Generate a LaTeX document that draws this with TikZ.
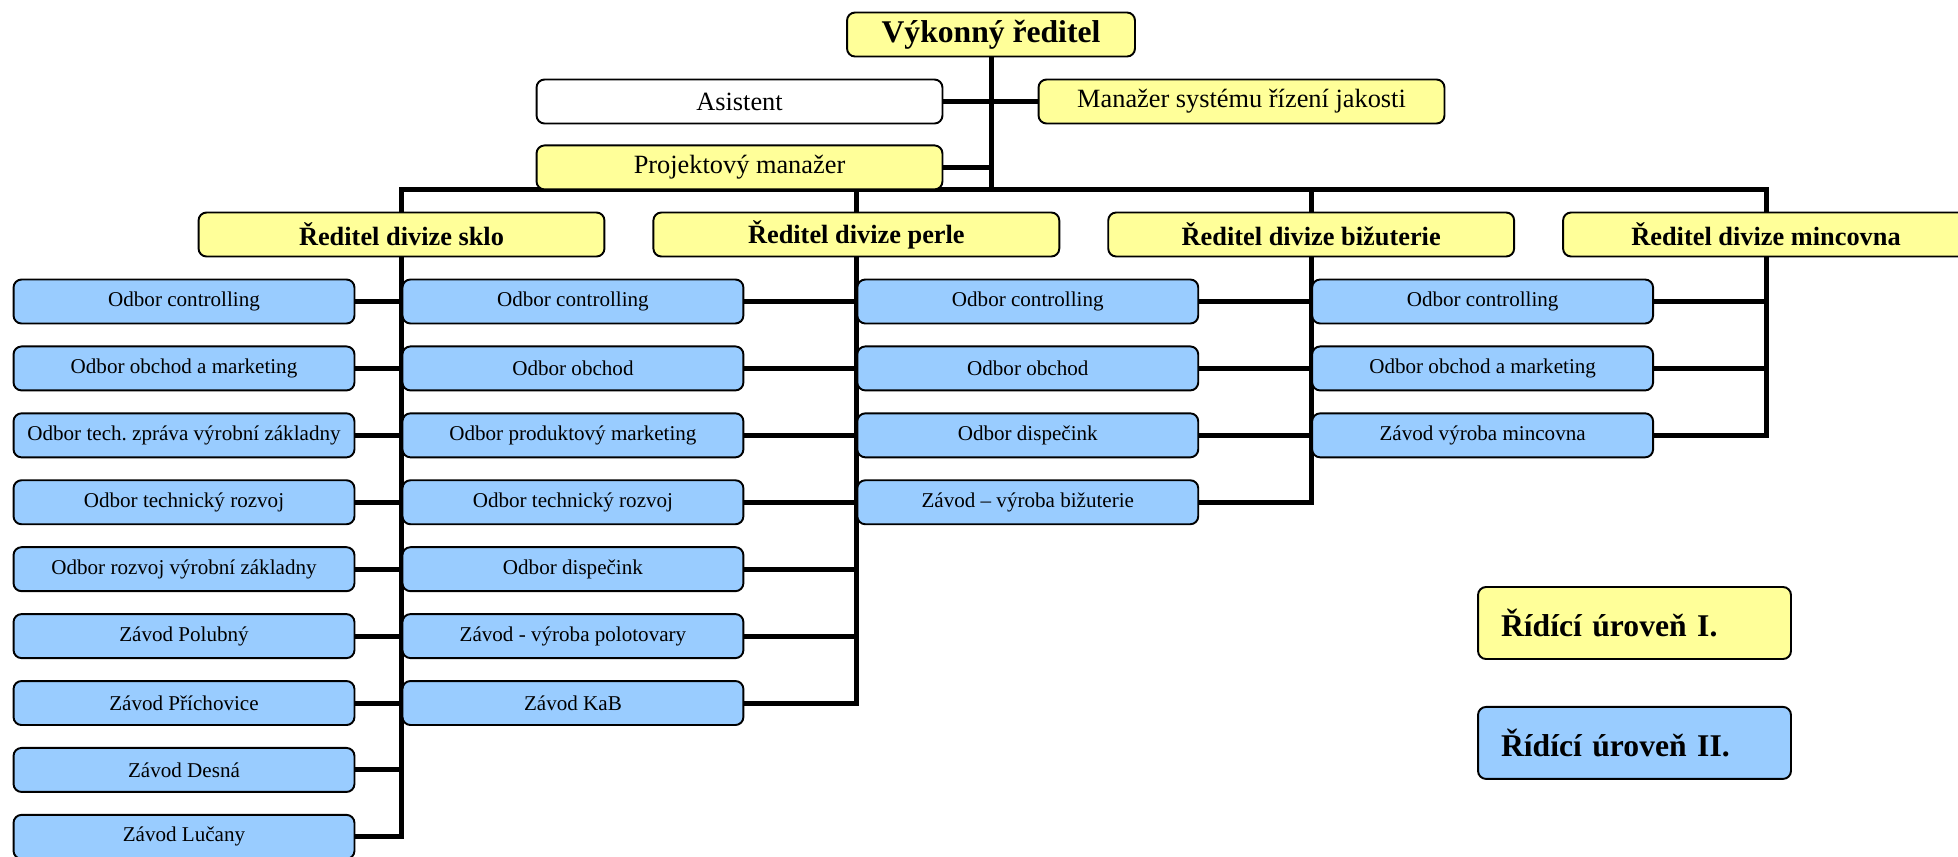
\documentclass[tikz,border=0pt]{standalone}
\usepackage{fontspec}
\setmainfont{Liberation Serif}
\usepackage{tikz}
\usepackage{xcolor}
\usetikzlibrary{positioning,backgrounds}
\definecolor{leveloneyellow}{RGB}{255,255,153}
\definecolor{leveltwoblue}{RGB}{153,204,255}

\begin{document}
\begin{tikzpicture}[x=0.02cm, y=-0.02cm,
                box/.style={rectangle, rounded corners=0.16cm, draw=black, line width=1.1pt, minimum height=0.88cm, inner sep=2pt, align=center},
                levelone/.style={fill=leveloneyellow},
                leveltwo/.style={fill=leveltwoblue},
                chief/.style={box, levelone, minimum width=5.76cm, font=\fontsize{18}{22}\selectfont\bfseries},
                staff/.style={box, minimum width=8.12cm, font=\fontsize{15}{18}\selectfont},
                division/.style={box, levelone, minimum width=8.12cm, font=\fontsize{15}{18}\selectfont\bfseries},
                dept/.style={box, leveltwo, minimum width=6.82cm, font=\fontsize{12}{14}\selectfont},
                legend/.style={box, minimum height=1.44cm, text width=5.34cm, inner xsep=0.46cm, align=left, font=\fontsize{18}{22}\selectfont\bfseries},
                link/.style={line width=2.85pt}
            ]
                \useasboundingbox (0,0) rectangle (1958,856);
                \clip (0,0) rectangle (1958,856);

                \node[chief] (ceo) at (991,34.5) {Výkonný ředitel};
                \node[staff] (asist) at (739.5,101.5) {Asistent};
                \node[staff, levelone] (quality) at (1241.5,101.5) {Manažer systému řízení jakosti};
                \node[staff, levelone, below=0.4cm of asist] (project) {Projektový manažer};
                \coordinate (hub) at (991,189);

                \node[division] (dsklo) at (401.5,234.5) {Ředitel divize sklo};
                \node[division, right=0.94cm of dsklo] (dperle) {Ředitel divize perle};
                \node[division, right=0.94cm of dperle] (dbiz) {Ředitel divize bižuterie};
                \node[division, right=0.94cm of dbiz] (dminc) {Ředitel divize mincovna};

                % divize sklo
                \node[dept] (s1) at (184,301.5) {Odbor controlling};
                \node[dept, below=0.42cm of s1] (s2) {Odbor obchod a marketing};
                \node[dept, below=0.42cm of s2] (s3) {Odbor tech.\ zpráva výrobní základny};
                \node[dept, below=0.42cm of s3] (s4) {Odbor technický rozvoj};
                \node[dept, below=0.42cm of s4] (s5) {Odbor rozvoj výrobní základny};
                \node[dept, below=0.42cm of s5] (s6) {Závod Polubný};
                \node[dept, below=0.42cm of s6] (s7) {Závod Příchovice};
                \node[dept, below=0.42cm of s7] (s8) {Závod Desná};
                \node[dept, below=0.42cm of s8] (s9) {Závod Lučany};

                % divize perle
                \node[dept, anchor=west] (p1) at (s1 -| dsklo) {Odbor controlling};
                \node[dept, below=0.42cm of p1] (p2) {Odbor obchod};
                \node[dept, below=0.42cm of p2] (p3) {Odbor produktový marketing};
                \node[dept, below=0.42cm of p3] (p4) {Odbor technický rozvoj};
                \node[dept, below=0.42cm of p4] (p5) {Odbor dispečink};
                \node[dept, below=0.42cm of p5] (p6) {Závod - výroba polotovary};
                \node[dept, below=0.42cm of p6] (p7) {Závod KaB};

                % divize bizuterie
                \node[dept, anchor=west] (b1) at (p1 -| dperle) {Odbor controlling};
                \node[dept, below=0.42cm of b1] (b2) {Odbor obchod};
                \node[dept, below=0.42cm of b2] (b3) {Odbor dispečink};
                \node[dept, below=0.42cm of b3] (b4) {Závod – výroba bižuterie};

                % divize mincovna
                \node[dept, anchor=west] (m1) at (b1 -| dbiz) {Odbor controlling};
                \node[dept, below=0.42cm of m1] (m2) {Odbor obchod a marketing};
                \node[dept, below=0.42cm of m2] (m3) {Závod výroba mincovna};

                % legenda
                \node[legend, levelone] (leg1) at (1634.5,623) {Řídící úroveň I.};
                \node[legend, leveltwo, below=0.92cm of leg1] (leg2) {Řídící úroveň II.};

                \begin{scope}[on background layer]
                    \draw[link] (ceo) -- (hub);
                    \draw[link] (asist) -- (asist -| hub);
                    \draw[link] (quality) -- (quality -| hub);
                    \draw[link] (project) -- (project -| hub);
                    \draw[link] (s9) -| (dsklo |- hub) -- (dminc |- hub) |- (m3);
                    \draw[link] (dperle |- hub) |- (p7);
                    \draw[link] (dbiz |- hub) |- (b4);

                    \draw[link] (s1) -- (s1 -| dsklo);
                    \draw[link] (s2) -- (s2 -| dsklo);
                    \draw[link] (s3) -- (s3 -| dsklo);
                    \draw[link] (s4) -- (s4 -| dsklo);
                    \draw[link] (s5) -- (s5 -| dsklo);
                    \draw[link] (s6) -- (s6 -| dsklo);
                    \draw[link] (s7) -- (s7 -| dsklo);
                    \draw[link] (s8) -- (s8 -| dsklo);

                    \draw[link] (p1) -- (p1 -| dperle);
                    \draw[link] (p2) -- (p2 -| dperle);
                    \draw[link] (p3) -- (p3 -| dperle);
                    \draw[link] (p4) -- (p4 -| dperle);
                    \draw[link] (p5) -- (p5 -| dperle);
                    \draw[link] (p6) -- (p6 -| dperle);

                    \draw[link] (b1) -- (b1 -| dbiz);
                    \draw[link] (b2) -- (b2 -| dbiz);
                    \draw[link] (b3) -- (b3 -| dbiz);

                    \draw[link] (m1) -- (m1 -| dminc);
                    \draw[link] (m2) -- (m2 -| dminc);
                \end{scope}
            \end{tikzpicture}
\end{document}
